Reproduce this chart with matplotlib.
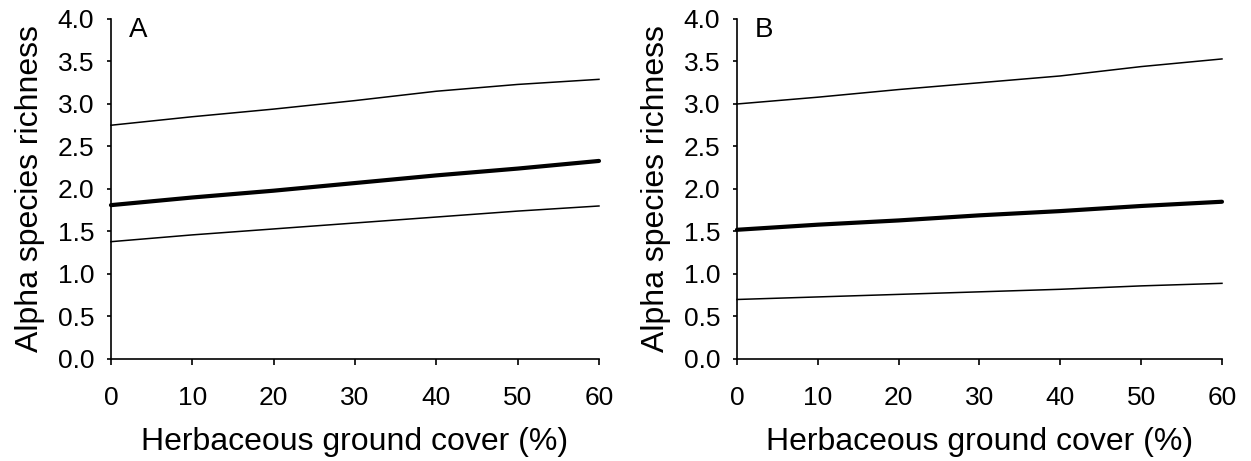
import numpy as np
import matplotlib
matplotlib.use("Agg")
import matplotlib.pyplot as plt

plt.rcParams['font.family'] = ['Liberation Sans', 'DejaVu Sans']

# Valores
cobertura = [0, 10, 20, 30, 40, 50, 60]

a_superior = [2.75, 2.85, 2.94, 3.04, 3.15, 3.23, 3.29]
a_media = [1.81, 1.90, 1.98, 2.07, 2.16, 2.24, 2.33]
a_inferior = [1.38, 1.46, 1.53, 1.60, 1.67, 1.74, 1.80]

b_superior = [3.00, 3.08, 3.17, 3.25, 3.33, 3.44, 3.53]
b_media = [1.52, 1.58, 1.63, 1.69, 1.74, 1.80, 1.85]
b_inferior = [0.70, 0.73, 0.76, 0.79, 0.82, 0.86, 0.89]

rotulos = ["A", "B"]
yticks = [0.0, 0.5, 1.0, 1.5, 2.0, 2.5, 3.0, 3.5, 4.0]
xticks = [0, 10, 20, 30, 40, 50, 60]

fig = plt.figure(figsize=(12.51, 4.61), dpi=100)
ax_a = fig.add_axes([0.0887, 0.2213, 0.3901, 0.7375])
ax_b = fig.add_axes([0.5891, 0.2213, 0.3877, 0.7375])

series = [(ax_a, a_superior, a_media, a_inferior), (ax_b, b_superior, b_media, b_inferior)]

for (ax, sup, med, inf), rot in zip(series, rotulos):
    ax.plot(cobertura, sup, color='black', lw=1.1, clip_on=False)
    ax.plot(cobertura, med, color='black', lw=3.0, clip_on=False, solid_capstyle='round')
    ax.plot(cobertura, inf, color='black', lw=1.1, clip_on=False)
    ax.set_xlim(0, 60)
    ax.set_ylim(0, 4)
    ax.set_xticks(xticks)
    ax.set_yticks(yticks)
    ax.set_yticklabels([f"{v:.1f}" for v in yticks])
    for s in ['top', 'right']:
        ax.spines[s].set_visible(False)
    for s in ['left', 'bottom']:
        ax.spines[s].set_linewidth(1.2)
    ax.tick_params(direction='out', width=1.2, labelsize=19)
    ax.tick_params(axis='x', length=4.5, pad=15)
    ax.tick_params(axis='y', length=3, pad=9)
    ax.set_xlabel("Herbaceous ground cover (%)", fontsize=23)
    ax.set_ylabel("Alpha species richness", fontsize=23)
    ax.xaxis.set_label_coords(0.5, -0.20)
    ax.yaxis.set_label_coords(-0.135, 0.5)
    ax.text(0.037, 0.968, rot, transform=ax.transAxes, fontsize=20, ha='left', va='center')

fig.savefig("out.png", dpi=100)
